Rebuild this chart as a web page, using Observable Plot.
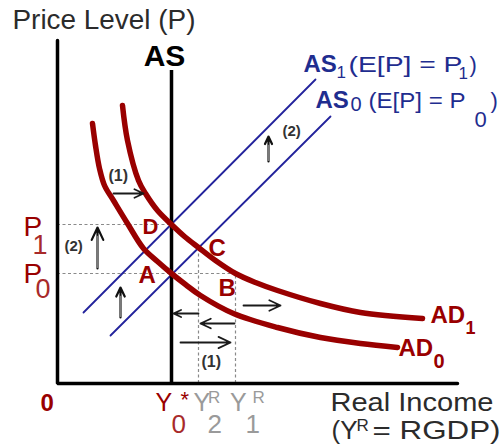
<!DOCTYPE html>
<html>
<head>
<meta charset="utf-8">
<script src="https://cdn.jsdelivr.net/npm/d3@7"></script>
<script src="https://cdn.jsdelivr.net/npm/@observablehq/plot@0.6"></script>
<style>
  body { margin: 0; background: #fff; }
  svg { display: block; }
</style>
</head>
<body>
<div id="chart"></div>
<script>
// Real income levels marked on the horizontal axis
const Y0 = 28.5, Y2 = 35.25, Y1 = 44.5;
// Price levels: initial, expected-after, and at point C
const P0 = 27.5, P1 = 39.75, PC = 34;
// Extent of the axes and of the long-run AS line
const yAxisTop = 85.75, xAxisEnd = 100, asTop = 78.25;

// Aggregate demand schedules, [real income, price level]
const ad0 = [[8.75, 65], [9.5, 59.5], [10.5, 53.75], [11.75, 49.5], [14, 45.75], [17.5, 40],
  [21.5, 33.75], [25, 30.5], [28.5, 27.5], [32, 24.75], [35.75, 22], [44, 17.5],
  [55, 14], [65.75, 11.5], [75.75, 10], [85, 9]];
const ad1 = [[16.25, 69.5], [17.5, 60.75], [20.25, 50.75], [22, 47.5], [25, 43.25], [28.5, 39.75],
  [31.75, 36.75], [35.25, 34], [39.5, 30.75], [44.5, 27.5], [49.5, 25.25], [55, 23.25],
  [65.75, 20], [75.75, 17.75], [91.25, 16.25]];

// Short-run aggregate supply lines (end points)
const as0 = [[13.25, 12], [68.25, 66.75]];
const as1 = [[6.5, 17.75], [64.5, 76]];

// Horizontal adjustment arrows [x1, y1, x2, y2]
const pushes = [
  [14, 47.5, 21.5, 47.5],
  [46.5, 19.5, 55.75, 19.5],
  [35.25, 17.5, 29, 17.5],
  [44.25, 15, 35.75, 15],
  [30.75, 10.25, 43.25, 10.25]
];
// Upward shift arrows [x1, y1, x2, y2]
const rises = [
  [10, 28.75, 10, 39],
  [15.75, 16.5, 15.75, 24],
  [52.75, 55.5, 52.75, 61.75]
];

const red = "#990000", redSub = "#a82a2a", blue = "#23239c", labelBlue = "#1f2d8f",
      ink = "#2b2b2b", gray = "#9a9a9a", mark = "#333";

const note = (text, [x, y], dx, dy, {size = 22, weight = "normal", color = ink, anchor = "start", fit} = {}) =>
  Plot.text([text], {
    x, y, text: d => d, dx, dy,
    fontSize: size, fontWeight: weight, fill: color,
    textAnchor: anchor, lineAnchor: "bottom",
    ariaDescription: fit ? `fit-${fit}` : "note"
  });

const dash = {stroke: "#8a8a8a", strokeWidth: 1.2, strokeDasharray: "3,2.5"};
const px = d => d[0], py = d => d[1];

const chart = Plot.plot({
  width: 503,
  height: 448,
  marginLeft: 57, marginRight: 0, marginTop: 0, marginBottom: 65,
  x: {domain: [0, 111.5], axis: null},
  y: {domain: [0, 95.75], axis: null},
  style: {fontFamily: "'Liberation Sans', Arial, sans-serif", background: "#fff", overflow: "visible"},
  marks: [
    // guide lines
    Plot.ruleY([P1], {x1: 0, x2: Y0, ...dash}),
    Plot.ruleY([P0], {x1: 0, x2: Y1, ...dash}),
    Plot.ruleX([Y2], {y1: 0, y2: PC, ...dash}),
    Plot.ruleX([Y1], {y1: 0, y2: P0, ...dash}),
    // short-run supply
    Plot.line(as0, {x: px, y: py, stroke: blue, strokeWidth: 1.8}),
    Plot.line(as1, {x: px, y: py, stroke: blue, strokeWidth: 1.8}),
    // axes and long-run supply
    Plot.line([[0, yAxisTop], [0, 0], [xAxisEnd, 0]], {x: px, y: py, stroke: "#000", strokeWidth: 3.5, strokeLinejoin: "miter"}),
    Plot.ruleX([Y0], {y1: 0, y2: asTop, stroke: "#000", strokeWidth: 3.5}),
    // aggregate demand
    Plot.line(ad0, {x: px, y: py, stroke: red, strokeWidth: 5.5, curve: "catmull-rom"}),
    Plot.line(ad1, {x: px, y: py, stroke: red, strokeWidth: 5.5, curve: "catmull-rom"}),
    // arrows
    Plot.arrow(pushes, {x1: d => d[0], y1: d => d[1], x2: d => d[2], y2: d => d[3], stroke: "#1a1a1a", strokeWidth: 1.8, headLength: 11, headAngle: 50}),
    Plot.arrow(rises, {x1: d => d[0], y1: d => d[1], x2: d => d[2], y2: d => d[3], stroke: "#111", strokeWidth: 2.2, headLength: 11, headAngle: 50}),
    Plot.ruleX(rises, {x: d => d[0], y1: d => d[1], y2: d => d[3] - 2.2, stroke: "#7a7a7a", strokeWidth: 2.4}),

    // titles
    note("Price Level (P)", [0, yAxisTop], -45, -12, {size: 27, fit: 183}),
    note("AS", [Y0, asTop], -7, -5, {size: 30, weight: "bold", color: "#000", anchor: "middle"}),
    note("AS", as1[1], -12, -8, {size: 24, weight: "bold", color: labelBlue}),
    note("1", as1[1], 21, -2, {size: 17, color: labelBlue}),
    note("(E[P] = P", as1[1], 33, -8, {size: 22, color: labelBlue, fit: 114}),
    note("1", as1[1], 143, -1, {size: 17, color: labelBlue}),
    note(")", as1[1], 154, -8, {size: 22, color: labelBlue}),
    note("AS", as0[1], -15, -9, {size: 24, weight: "bold", color: labelBlue}),
    note("0", as0[1], 20, -6, {size: 20, color: labelBlue}),
    note("(E[P] = P", as0[1], 38, -9, {size: 22, color: labelBlue, fit: 97}),
    note("0", as0[1], 144, 10, {size: 22, color: labelBlue}),
    note(")", as0[1], 160, -9, {size: 22, color: labelBlue}),
    note("AD", ad1[ad1.length - 1], 8, 4, {size: 24, weight: "bold", color: red}),
    note("1", ad1[ad1.length - 1], 43, 15, {size: 18, weight: "bold", color: red}),
    note("AD", ad0[ad0.length - 1], 1, 8, {size: 24, weight: "bold", color: red}),
    note("0", ad0[ad0.length - 1], 36, 20, {size: 20, weight: "bold", color: red}),

    // equilibrium points
    note("D", [Y0, P1], -29, 9, {size: 22, weight: "bold", color: red}),
    note("A", [Y0, P0], -33, 9, {size: 24, weight: "bold", color: red}),
    note("C", [Y2, PC], 10, 8, {size: 24, weight: "bold", color: red}),
    note("B", [Y1, P0], -17, 22, {size: 24, weight: "bold", color: red}),

    // step numbers
    note("(1)", [pushes[0][0], pushes[0][1]], -5, -13, {size: 16, weight: "bold", color: mark}),
    note("(1)", [pushes[4][0], pushes[4][1]], 21, 24, {size: 16, weight: "bold", color: mark}),
    note("(2)", [rises[0][0], rises[0][1]], -33, -18, {size: 15, weight: "bold", color: mark}),
    note("(2)", [rises[2][2], rises[2][3]], 14, -1, {size: 15, weight: "bold", color: mark}),

    // price axis labels
    note("P", [0, P1], -34, 11, {size: 28, color: red}),
    note("1", [0, P1], -25, 29, {size: 27, color: redSub}),
    note("P", [0, P0], -34, 9, {size: 28, color: red}),
    note("0", [0, P0], -22, 24, {size: 27, color: redSub}),

    // income axis labels
    note("0", [0, 0], -17, 27, {size: 24, weight: "bold", color: red}),
    note("Y", [Y0, 0], -16, 27, {size: 25, color: red}),
    note("0", [Y0, 0], 0, 49, {size: 26, color: redSub}),
    note("*", [Y0, 0], 9, 23, {size: 22, color: red}),
    note("Y", [Y2, 0], -5, 27, {size: 25, color: gray}),
    note("R", [Y2, 0], 9.5, 19, {size: 17, color: gray}),
    note("2", [Y2, 0], 9, 49, {size: 26, color: gray}),
    note("Y", [Y1, 0], -5.5, 27, {size: 25, color: gray}),
    note("R", [Y1, 0], 17, 19, {size: 17, color: gray}),
    note("1", [Y1, 0], 10, 49, {size: 26, color: gray}),
    note("Real Income", [xAxisEnd, 0], -127, 27, {size: 26, fit: 163}),
    note("(Y", [xAxisEnd, 0], -126, 55, {size: 26}),
    note("R", [xAxisEnd, 0], -101, 47, {size: 17}),
    note("= RGDP)", [xAxisEnd, 0], -85, 55, {size: 26, fit: 128})
  ]
});

// stretch the wide labels to their set lengths
d3.select(chart).selectAll("g[aria-description^='fit-'] text").each(function () {
  const w = +this.parentNode.getAttribute("aria-description").slice(4);
  this.setAttribute("textLength", w);
  this.setAttribute("lengthAdjust", "spacingAndGlyphs");
});

document.getElementById("chart").append(chart);
</script>
</body>
</html>
